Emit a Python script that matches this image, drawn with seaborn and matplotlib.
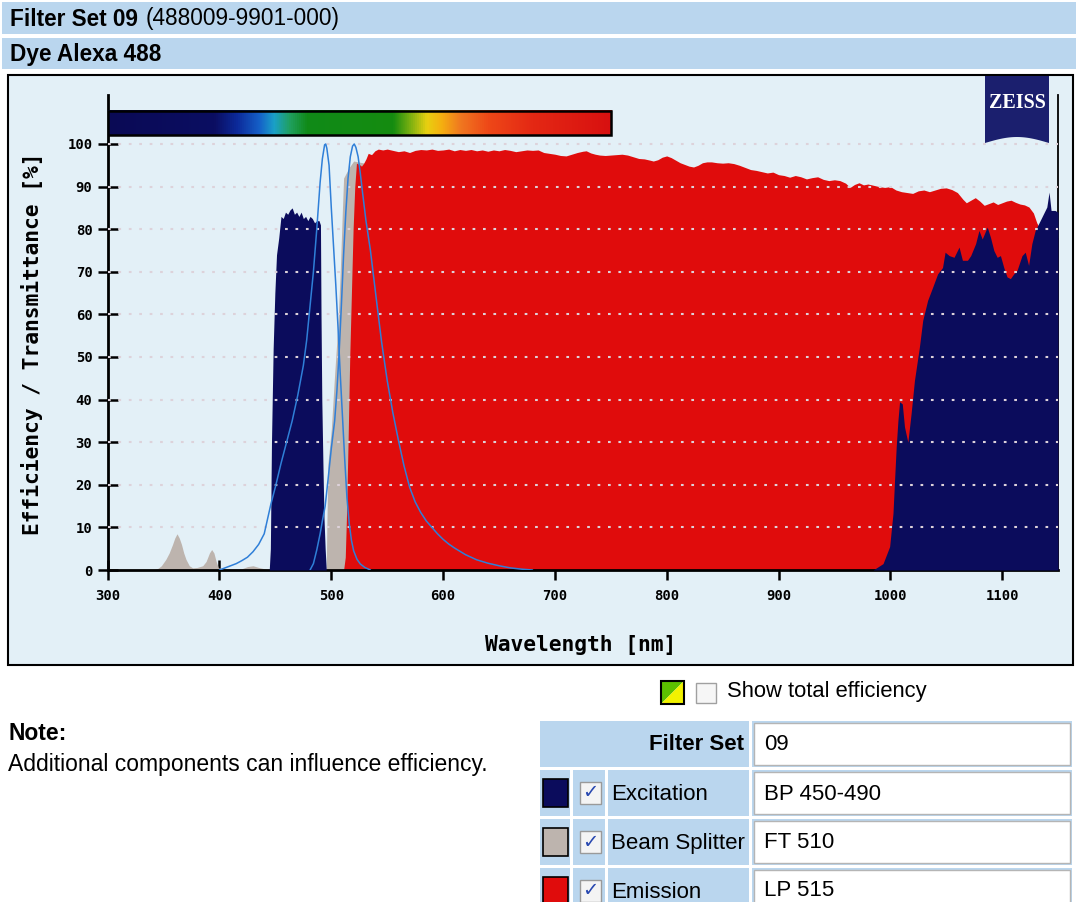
import matplotlib
matplotlib.use("Agg")
import numpy as np
import matplotlib.pyplot as plt
import seaborn as sns
from matplotlib.patches import Rectangle, Polygon
from matplotlib.colors import LinearSegmentedColormap

# ---------------------------------------------------------------- data
xtick_vals = [300, 400, 500, 600, 700, 800, 900, 1000, 1100]
ytick_vals = [0, 10, 20, 30, 40, 50, 60, 70, 80, 90, 100]

# Beam splitter FT 510 transmission (%)
bs_nm = [340, 345, 348, 352, 355, 358, 360, 362, 364, 366,
         368, 370, 373, 376, 380, 385, 388, 391, 393, 395,
         397, 399, 405, 412, 420, 425, 430, 435, 440, 444,
         495.5, 496, 497, 500, 503, 506, 508, 510, 511, 516,
         520, 530, 560, 600]
bs_val = [0, 0.4, 1.0, 2.5, 4.0, 6.0, 7.5, 8.5, 7.5, 6.0,
          4.0, 2.5, 1.0, 0.5, 0.6, 1.0, 2.0, 4.0, 4.8, 4.0,
          2.0, 0.5, 0.3, 0.2, 0.3, 0.8, 1.0, 0.6, 0.3, 0,
          0, 10, 25, 33, 46, 58, 70, 85, 92, 94.5,
          96, 95.5, 95, 94]

# Excitation BP 450-490: pass band and near-infrared leak (%)
exc_band_nm = [444.5, 445.5, 446.5, 448, 449.5, 451, 453, 455, 457, 459,
               461, 463, 465, 467, 469, 471, 473, 475, 477, 479,
               481, 483, 485, 487, 489, 490.3, 490.8, 491.5, 492.5, 493.5,
               494.5, 495.5]
exc_band_val = [0, 5, 30, 52, 65, 74, 78, 83, 82.5, 84,
                83.5, 84.5, 85, 83.5, 84, 83, 84, 82.5, 83, 82,
                83, 82.5, 81.5, 82, 82, 81, 60, 40, 25, 12,
                5, 0]
exc_nir_nm = [984.6, 993.5, 999.4, 1002.4, 1003.8, 1005.3, 1006.8, 1008.3, 1010.7, 1012.7,
              1015.7, 1018.6, 1021.6, 1026, 1029, 1033.4, 1037.9, 1042.3, 1046.7, 1049,
              1052.7, 1057, 1061.5, 1064.5, 1069, 1071.9, 1076.3, 1079.3, 1082.2, 1086.7,
              1089.6, 1092.6, 1095.6, 1098.5, 1101.5, 1104.4, 1107.4, 1110.4, 1113.3, 1117.8,
              1120.7, 1123.7, 1126.6, 1129.6, 1134, 1137, 1140, 1142, 1143.8, 1147.3,
              1150]
exc_nir_val = [0, 1.5, 5.5, 13.3, 21, 29, 35, 39.5, 39, 33.6,
               30, 36.7, 44.5, 52.3, 58.6, 63.3, 66.4, 69.5, 71, 74.6,
               73.8, 73.4, 75.8, 72.7, 72.7, 73.8, 76.6, 79.7, 77.7, 80.5,
               78.1, 75, 73.4, 73.8, 71, 68.8, 68.4, 69.5, 70.3, 73.8,
               74.6, 71.5, 76.6, 79.7, 82, 83.6, 85.2, 88.7, 84.4, 84.4,
               84]

# Emission LP 515 transmission (%)
em_nm = [511, 512.5, 513.5, 515, 516.5, 518, 519.5, 521, 522.5, 525,
         527, 529, 531, 533, 536, 539, 542, 546, 550, 555,
         560, 565, 570, 575, 580, 585, 590, 595, 600, 605,
         610, 615, 620, 625, 630, 635, 640, 645, 650, 655,
         660, 665, 670, 675, 680, 685, 690, 695, 700, 705,
         710, 715, 720, 725, 728, 732, 736, 740, 745, 750,
         755, 760, 765, 770, 775, 780, 785, 788, 792, 796,
         800, 804, 808, 812, 816, 820, 824, 828, 832, 836,
         840, 845, 850, 855, 860, 865, 870, 875, 880, 885,
         890, 895, 900, 905, 910, 915, 920, 925, 930, 935,
         940, 945, 950, 955, 960, 964, 968, 972, 976, 980,
         985, 990, 995, 1000, 1005, 1010, 1015, 1020, 1025, 1030,
         1035, 1040, 1045, 1050, 1055, 1060, 1065, 1068, 1072, 1076,
         1080, 1084, 1088, 1092, 1096, 1100, 1104, 1108, 1112, 1116,
         1120, 1124, 1128, 1131, 1134, 1140, 1150]
em_val = [0, 3, 12, 30, 50, 65, 80, 90, 95.5, 95.2,
          94.8, 95.5, 96.5, 97.8, 97.5, 98.4, 98.8, 98.6, 98.8, 98.5,
          98.2, 98.4, 98.0, 98.5, 98.7, 98.6, 98.8, 98.5, 98.6, 98.8,
          98.4, 98.7, 98.5, 98.7, 98.4, 98.6, 98.3, 98.6, 98.4, 98.7,
          98.5, 98.2, 98.4, 98.6, 98.5, 98.6, 98.0, 97.8, 97.6, 97.3,
          97.2, 97.6, 98.0, 98.3, 98.4, 97.9, 97.6, 97.4, 97.3, 97.4,
          97.5, 97.6, 97.4, 97.0, 96.6, 96.5, 96.2, 96.0, 96.3, 96.9,
          97.2, 96.8, 96.2, 95.6, 95.2, 94.8, 94.6, 95.0, 95.6, 95.8,
          95.8, 95.6, 95.5, 95.6, 95.4, 95.0, 94.5, 94.0, 93.8, 93.5,
          93.2, 93.4, 92.8, 92.6, 92.2, 92.6, 92.3, 91.8, 92.1, 92.3,
          91.7, 91.4, 91.6, 91.4, 90.8, 89.8, 90.5, 90.9, 90.4, 90.6,
          90.3, 90.0, 89.8, 90.0, 89.2, 88.8, 88.6, 88.4, 89.0, 89.2,
          88.8, 89.2, 89.6, 89.7, 89.3, 88.6, 87.0, 86.2, 86.8, 87.4,
          86.6, 85.6, 86.0, 86.4, 85.8, 86.2, 86.6, 86.8, 86.3, 85.9,
          85.7, 85.2, 83.8, 81.5, 80.0, 79.0, 78.0]

# Alexa 488 excitation and emission spectra (% of peak)
dye_ex_nm = [400, 405, 410, 415, 420, 425, 430, 435, 440, 443,
             446, 450, 455, 460, 465, 470, 475, 478, 481, 484,
             487, 490, 492, 494, 495, 496, 498, 500, 502, 504,
             506, 508, 510, 512, 514, 516, 518, 520, 523, 526,
             530, 535]
dye_ex_val = [0, 0.5, 1.0, 1.5, 2.2, 3.0, 4.3, 6.0, 8.5, 12,
              15.5, 19.5, 25, 30, 35, 41, 48, 54, 62, 70,
              80, 91, 96.5, 99.8, 100, 99, 95, 85, 76, 67,
              57, 46, 36, 26, 17, 11, 7, 4.5, 2.5, 1.4,
              0.6, 0]
dye_em_nm = [481, 484, 487, 490, 492, 494.5, 497, 500, 503, 505,
             507, 509, 511, 513, 515, 517, 519, 520.5, 522, 524,
             526, 528, 531, 535, 538, 541, 545, 550, 555, 560,
             565, 570, 575, 580, 585, 590, 595, 600, 605, 610,
             620, 630, 640, 650, 660, 670, 680]
dye_em_val = [0, 1.5, 4.7, 8.5, 11.5, 15, 21, 28.5, 35, 42,
              51, 62, 74, 84, 92, 97, 99.5, 100, 99.2, 97,
              93, 88.5, 82, 75, 68.5, 62, 53.5, 44.5, 37, 30.5,
              24.5, 19.5, 16, 13.5, 11.5, 10, 8.5, 7.2, 6.1, 5.2,
              3.6, 2.4, 1.6, 1.0, 0.5, 0.2, 0]

# spectrum strip along the top of the plot
spectrum_nm = [300, 395, 415, 435, 448, 462, 478, 555, 570, 585, 598, 615, 640, 680, 750]
spectrum_colors = ['#0a0a55', '#0b0e62', '#0c2a9a', '#1560c8', '#1aa0c8', '#20a060',
                   '#108a18', '#158c10', '#7ab010', '#e8d010', '#f5b010', '#f07820',
                   '#ee4818', '#e42814', '#d81010']

components = ["Excitation", "Beam Splitter", "Emission"]
filters = ["BP 450-490", "FT 510", "LP 515"]

# ---------------------------------------------------------------- style
HDR = '#bad6ee'
PANEL = '#e3f0f7'
NAVY = '#0b0c5c'
RED = '#e00c0c'
GRAY = '#bdb4ae'
DYE = '#2f7fd8'
GRID = '#ddd2da'
MONO = 'DejaVu Sans Mono'

sns.set_theme(style="white")
plt.rcParams['font.family'] = ['Liberation Sans', 'DejaVu Sans']
plt.rcParams['text.color'] = 'black'
plt.rcParams['xtick.color'] = 'black'
plt.rcParams['ytick.color'] = 'black'
plt.rcParams['axes.labelcolor'] = 'black'

W, H = 1078, 902
fig = plt.figure(figsize=(W / 100, H / 100), dpi=100)
fig.patch.set_facecolor('white')


def fx(px):
    return px / W


def fy(py):
    return 1 - py / H


def frect(x0, y0, x1, y1, z=1, **kw):
    r = Rectangle((fx(x0), fy(y1)), fx(x1) - fx(x0), fy(y0) - fy(y1),
                  transform=fig.transFigure, zorder=z, **kw)
    fig.add_artist(r)
    return r


def ftext(x, y, s, **kw):
    kw.setdefault('color', 'black')
    return fig.text(fx(x), fy(y), s, **kw)


# header bars
frect(2, 2, 1076, 34, z=-5, fc=HDR, ec='none')
frect(2, 38, 1076, 69, z=-5, fc=HDR, ec='none')
ftext(10, 19, "Filter Set 09", fontsize=16.3, fontweight='bold', va='center', ha='left')
ftext(146, 19, "(488009-9901-000)", fontsize=16.3, va='center', ha='left')
ftext(10, 54, "Dye Alexa 488", fontsize=16.3, fontweight='bold', va='center', ha='left')

# chart panel
frect(8, 75, 1073, 665, z=-5, fc=PANEL, ec='black', lw=1.5)

# ---------------------------------------------------------------- plot
ax = fig.add_axes([fx(107.7), fy(570), fx(1058) - fx(107.7), fy(95) - fy(570)])
ax.set_facecolor('none')

ax.fill_between(bs_nm, bs_val, 0, color=GRAY, lw=0, zorder=1)
ax.fill_between(em_nm, em_val, 0, color=RED, lw=0, zorder=2)
ax.fill_between(exc_band_nm, exc_band_val, 0, color=NAVY, lw=0, zorder=3)
ax.fill_between(exc_nir_nm, exc_nir_val, 0, color=NAVY, lw=0, zorder=3)

for v in ytick_vals[1:]:
    ax.axhline(v, color=GRID, lw=1.5, ls=(0, (1.3, 3.7)), zorder=4)

sns.lineplot(x=dye_ex_nm, y=dye_ex_val, ax=ax, color=DYE, linewidth=1.1,
             estimator=None, sort=False, zorder=6)
sns.lineplot(x=dye_em_nm, y=dye_em_val, ax=ax, color=DYE, linewidth=1.1,
             estimator=None, sort=False, zorder=6)

# spectrum strip
pos = [(w - spectrum_nm[0]) / (spectrum_nm[-1] - spectrum_nm[0]) for w in spectrum_nm]
cmap = LinearSegmentedColormap.from_list("spectrum", list(zip(pos, spectrum_colors)))
ax.imshow(np.linspace(0, 1, 512)[None, :], extent=[spectrum_nm[0], spectrum_nm[-1], 102, 107.8],
          aspect='auto', cmap=cmap, zorder=7, interpolation='bilinear')
ax.add_patch(Rectangle((spectrum_nm[0], 102), spectrum_nm[-1] - spectrum_nm[0], 5.8,
                       fill=False, ec='black', lw=1.8, zorder=8))

ax.set_xlim(300, 1150)
ax.set_ylim(0, 111.5)

ax.set_xticks(xtick_vals, labels=[str(v) for v in xtick_vals],
              fontfamily=MONO, fontweight='bold', fontsize=10)
ax.set_yticks(ytick_vals, labels=[str(v) for v in ytick_vals],
              fontfamily=MONO, fontweight='bold', fontsize=10)
ax.tick_params(axis='both', direction='inout', length=14, width=1.8, color='black',
               labelcolor='black', bottom=True, left=True, top=False, right=False)
ax.tick_params(axis='x', pad=7)
ax.tick_params(axis='y', pad=4)
ax.set_xlabel("")
ax.set_ylabel("")
ax.grid(False)

for side in ['left', 'bottom', 'right']:
    ax.spines[side].set_visible(True)
    ax.spines[side].set_color('black')
ax.spines['left'].set_linewidth(2.0)
ax.spines['bottom'].set_linewidth(2.0)
ax.spines['right'].set_linewidth(1.3)
ax.spines['top'].set_visible(False)

ftext(32, 344, "Efficiency / Transmittance [%]", rotation=90, ha='center', va='center',
      fontfamily=MONO, fontweight='bold', fontsize=15.3)
ftext(581, 645, "Wavelength [nm]", ha='center', va='center',
      fontfamily=MONO, fontweight='bold', fontsize=15.3)

# logo
arc_x = np.linspace(1049, 985, 30)
arc_y = 143 - 6 * np.sin(np.pi * (arc_x - 985) / 64)
logo_pts = [(fx(985), fy(76)), (fx(1049), fy(76))] + [(fx(a), fy(b)) for a, b in zip(arc_x, arc_y)]
fig.add_artist(Polygon(logo_pts, closed=True, transform=fig.transFigure, fc='#1b1f6e', ec='none', zorder=5))
ftext(1017, 103, "ZEISS", ha='center', va='center', color='white', fontsize=14.5,
      fontweight='bold', fontfamily=['Liberation Serif', 'DejaVu Serif'], zorder=6)

# ---------------------------------------------------------------- below the chart
# total-efficiency toggle
tri_a = [(fx(661), fy(681)), (fx(684), fy(681)), (fx(661), fy(704))]
tri_b = [(fx(684), fy(681)), (fx(684), fy(704)), (fx(661), fy(704))]
fig.add_artist(Polygon(tri_a, closed=True, transform=fig.transFigure, fc='#5cc000', ec='none'))
fig.add_artist(Polygon(tri_b, closed=True, transform=fig.transFigure, fc='#f2f200', ec='none'))
frect(661, 681, 684, 704, fill=False, ec='black', lw=1.5)
frect(696, 683, 716, 703, fc='#f6f6f6', ec='#a0a0a0', lw=1)
ftext(727, 692, "Show total efficiency", fontsize=15.8, va='center', ha='left')

ftext(8, 733, "Note:", fontsize=16.5, fontweight='bold', va='center', ha='left')
ftext(8, 764, "Additional components can influence efficiency.", fontsize=16.5, va='center', ha='left')

# component table
rows_y = [(721, 767), (770, 816), (819, 865), (868, 912)]
swatches = [NAVY, GRAY, RED]


def value_cell(y0, y1, text):
    frect(752, y0, 1072, y1, fc=HDR, ec='none')
    frect(754, y0 + 2, 1070, y1 - 2, fc='white', ec='#b5b5b5', lw=1)
    ftext(764, (y0 + y1) / 2 + 1, text, fontsize=16, va='center', ha='left')


y0, y1 = rows_y[0]
frect(540, y0, 749, y1, fc=HDR, ec='none')
ftext(744, (y0 + y1) / 2 + 1, "Filter Set", fontsize=16, fontweight='bold', va='center', ha='right')
value_cell(y0, y1, "09")

for (y0, y1), name, filt, col in zip(rows_y[1:], components, filters, swatches):
    frect(540, y0, 570, y1, fc=HDR, ec='none')
    frect(543, y0 + 9, 568, y0 + 37, fc=col, ec='black', lw=1.2)
    frect(573, y0, 605, y1, fc=HDR, ec='none')
    frect(580, y0 + 12, 601, y0 + 34, fc='#f4f4f4', ec='#9a9a9a', lw=1)
    ftext(590.5, y0 + 23, "\u2713", fontsize=14, fontweight='bold', color='#2848b0',
          va='center', ha='center', fontfamily='DejaVu Sans')
    frect(608, y0, 749, y1, fc=HDR, ec='none')
    ftext(611, y0 + 24, name, fontsize=16, va='center', ha='left')
    value_cell(y0, y1, filt)

fig.savefig("out.png", dpi=100, facecolor='white')
